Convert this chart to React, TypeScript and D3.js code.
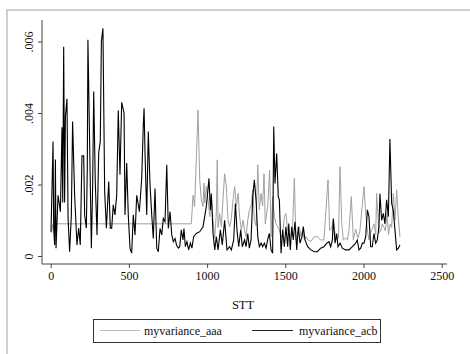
import { useEffect, useRef } from "react";
import * as d3 from "d3";

// series, values in units of 1e-4
const aaaStt = [5, 15, 899, 910, 920, 931, 942, 953, 963, 974, 980, 985, 995, 1006, 1017, 1027, 1038, 1049, 1059, 1065, 1070, 1080, 1091, 1112, 1123, 1134, 1144, 1155, 1166, 1176, 1187, 1198, 1208, 1219, 1230, 1240, 1249, 1260, 1270, 1281, 1292, 1302, 1313, 1324, 1334, 1345, 1355, 1364, 1372, 1387, 1400, 1409, 1419, 1430, 1441, 1451, 1462, 1473, 1483, 1494, 1504, 1515, 1526, 1536, 1547, 1558, 1568, 1579, 1590, 1600, 1611, 1622, 1632, 1643, 1664, 1686, 1705, 1726, 1747, 1773, 1784, 1795, 1807, 1815, 1828, 1840, 1850, 1861, 1871, 1885, 1897, 1907, 1922, 1935, 1950, 1965, 1977, 2003, 2014, 2025, 2035, 2046, 2067, 2078, 2084, 2099, 2110, 2120, 2131, 2140, 2150, 2160, 2170, 2180, 2191, 2201, 2212, 2222, 2233];
const aaaVal = [6.5, 9.0, 9.0, 17, 13.8, 26.9, 40.8, 21.3, 15.7, 13.8, 20.4, 14.8, 19.4, 15.7, 11, 16.6, 10, 5, 12, 26.9, 8, 11.9, 8.2, 23, 19.4, 10, 8.2, 10.5, 15.7, 19.4, 13.8, 17.5, 11, 7.3, 10, 7.3, 5.4, 10, 12.7, 14, 18.6, 10, 8.5, 25.5, 12.9, 17.5, 14, 23, 9, 13.8, 24, 5.4, 16.6, 11, 9, 8.2, 7.3, 5.4, 6, 11, 11.9, 7.3, 6.3, 5.4, 8.2, 21.7, 4.5, 6.3, 8.2, 5.4, 7.3, 4.5, 5.4, 4.5, 4.1, 5.4, 5.4, 4.5, 4.5, 21.3, 7.2, 7.5, 10, 7, 4.5, 5, 25, 9, 4.5, 5, 4.5, 7, 16.6, 4.5, 7.5, 5, 7, 19.4, 12, 7, 4.5, 6.5, 9, 6, 17.5, 6.5, 7, 9, 8, 7, 12, 6, 9, 8, 17.5, 10, 18.5, 11, 5.4];

const acbStt = [2, 15, 19, 25, 30, 34, 47, 62, 72, 77, 83, 89, 94, 104, 111, 121, 132, 140, 153, 168, 179, 189, 200, 211, 217, 228, 234, 238, 247, 260, 268, 275, 285, 296, 307, 317, 324, 334, 345, 356, 371, 381, 390, 400, 411, 422, 432, 443, 454, 469, 475, 486, 496, 507, 518, 528, 539, 550, 567, 582, 592, 597, 603, 614, 624, 635, 646, 656, 667, 678, 688, 699, 710, 720, 731, 742, 752, 763, 774, 784, 795, 805, 816, 825, 835, 846, 852, 861, 871, 882, 893, 903, 914, 931, 953, 974, 995, 1012, 1021, 1027, 1038, 1049, 1059, 1070, 1085, 1097, 1112, 1127, 1144, 1155, 1170, 1181, 1191, 1202, 1215, 1225, 1240, 1249, 1260, 1270, 1281, 1292, 1302, 1313, 1324, 1334, 1345, 1355, 1366, 1377, 1387, 1398, 1409, 1419, 1426, 1434, 1445, 1455, 1462, 1473, 1483, 1494, 1504, 1515, 1522, 1532, 1541, 1551, 1562, 1573, 1583, 1594, 1607, 1615, 1626, 1643, 1664, 1686, 1705, 1726, 1747, 1765, 1779, 1790, 1801, 1807, 1818, 1829, 1837, 1850, 1865, 1885, 1907, 1929, 1950, 1960, 1971, 1982, 1993, 2003, 2014, 2025, 2035, 2046, 2056, 2067, 2078, 2088, 2099, 2105, 2116, 2127, 2137, 2148, 2159, 2169, 2180, 2190, 2201, 2212, 2223, 2233];
const acbVal = [6.8, 32, 7.8, 3.1, 27, 2.2, 17, 12.4, 36, 15, 58.5, 15, 39, 44, 10.6, 1.2, 11.5, 37.6, 17, 3.1, 7.8, 3.1, 28, 28, 11.5, 7.8, 25, 60.5, 36.6, 2.2, 19, 46, 20.8, 5.9, 29, 32, 60, 63.7, 18, 7.8, 20.8, 7.8, 7.8, 14.3, 11.5, 17, 40.8, 22.7, 43, 40, 11.5, 26, 11.5, 2.2, 0.8, 11.5, 5.9, 17, 12.4, 21.8, 36.6, 41.3, 29, 11.5, 34.8, 19.9, 11.5, 4.9, 18.9, 2.2, 1.2, 7.7, 5.9, 10.5, 9.6, 25.5, 7.7, 12.4, 5.9, 4.0, 4.9, 3, 2.2, 2.6, 7.3, 4.5, 7.7, 2.6, 4, 1.7, 3.6, 2.2, 5.4, 6.3, 6.8, 8.2, 13.8, 21.7, 12.9, 17.5, 6.3, 1.7, 5.4, 1.7, 7.3, 3.1, 10, 1.7, 2.6, 1.7, 4.5, 14.7, 7.3, 2.6, 7.3, 2.6, 4.5, 2.6, 6.3, 2.2, 4.5, 16.6, 21.3, 15.7, 5.4, 2.6, 3.6, 2.6, 3.6, 2.2, 4.5, 6.3, 1.7, 0.8, 36.2, 20.3, 28.7, 16.6, 15.7, 0.8, 7.3, 2.6, 8.2, 2.6, 9.1, 1.7, 8.2, 4.5, 9.6, 1.7, 8.2, 3.6, 5.4, 8.2, 4.5, 2.6, 1.7, 1.2, 1.2, 2.2, 2.6, 3.6, 4, 2.6, 4.5, 10.5, 3.6, 6.3, 2.6, 3.6, 2.2, 1.7, 1.7, 2.6, 3.6, 4.5, 1.7, 2.2, 3.6, 3.6, 5.4, 12.9, 11, 2.6, 2.6, 6.3, 3.6, 4.5, 8.2, 17.5, 10, 11.9, 9, 15.7, 11, 32.7, 14.7, 12.9, 7.3, 1.7, 2.2, 3.1];

const seriesNames = ["myvariance_aaa", "myvariance_acb"];
const xTicks = [0, 500, 1000, 1500, 2000, 2500];
const yTicks = [0, 0.002, 0.004, 0.006];

const FONT = "'Liberation Serif', 'Times New Roman', serif";

const App = () => {
  const xAxisRef = useRef<SVGGElement>(null);
  const yAxisRef = useRef<SVGGElement>(null);

  const x = d3.scaleLinear().domain([0, 2500]).range([50.7, 441.7]);
  const y = d3.scaleLinear().domain([0, 0.006]).range([256, 41.5]);

  const aaa = aaaStt.map((s, i) => [s, aaaVal[i] * 1e-4] as [number, number]);
  const acb = acbStt.map((s, i) => [s, acbVal[i] * 1e-4] as [number, number]);

  const lineGen = d3
    .line<[number, number]>()
    .x((d) => x(d[0]))
    .y((d) => y(d[1]));

  useEffect(() => {
    // x axis sits a bit below the zero line, like Stata
    const xAxis = d3
      .axisBottom(x)
      .tickValues(xTicks)
      .tickSize(4)
      .tickPadding(3)
      .tickFormat((d) => String(d));
    const gx = d3.select(xAxisRef.current!).call(xAxis);
    gx.select(".domain").remove();
    gx.selectAll(".tick line").attr("stroke", "#444");
    gx.selectAll(".tick text").attr("font-family", FONT).attr("font-size", 12).attr("fill", "#111");

    const fmt = (d: number) => (d === 0 ? "0" : String(+d.toFixed(3)).replace(/^0/, ""));
    const yAxis = d3.axisLeft(y).tickValues(yTicks).tickSize(4).tickFormat((d) => fmt(d as number));
    const gy = d3.select(yAxisRef.current!).call(yAxis);
    gy.select(".domain").remove();
    gy.selectAll(".tick line").attr("stroke", "#444");
    gy.selectAll(".tick text")
      .attr("font-family", FONT)
      .attr("font-size", 12)
      .attr("fill", "#111")
      .attr("text-anchor", "middle")
      .attr("x", 0)
      .attr("dy", 0)
      .attr("transform", "translate(-9,0) rotate(-90)");
  }, []);

  return (
    <svg
      width={470}
      height={354}
      style={{ position: "absolute", left: 0, top: 0, background: "#fff" }}
    >
      <rect x={7} y={10} width={480} height={360} fill="#fff" stroke="#cfcfcf" strokeWidth={2} />

      <path d={lineGen(aaa) ?? ""} fill="none" stroke="#a0a0a0" strokeWidth={1} />
      <path d={lineGen(acb) ?? ""} fill="none" stroke="#000" strokeWidth={1.1} />

      <line x1={42} x2={447} y1={264} y2={264} stroke="#444" />
      <line x1={42} x2={42} y1={20} y2={264} stroke="#444" />
      <g ref={xAxisRef} transform="translate(0,264)" />
      <g ref={yAxisRef} transform="translate(42,0)" />

      <text x={243} y={309} textAnchor="middle" fontFamily={FONT} fontSize={12.5} fill="#111">
        STT
      </text>

      <rect x={93.5} y={319.5} width={287} height={23} fill="#fff" stroke="#333" />
      <line x1={100} x2={140} y1={330.5} y2={330.5} stroke="#bdbdbd" strokeWidth={1.2} />
      <text x={144} y={335} fontFamily={FONT} fontSize={12} fill="#111">
        {seriesNames[0]}
      </text>
      <line x1={252} x2={293} y1={330.5} y2={330.5} stroke="#222" strokeWidth={1.2} />
      <text x={299} y={335} fontFamily={FONT} fontSize={12} fill="#111">
        {seriesNames[1]}
      </text>
    </svg>
  );
};

export default App;
